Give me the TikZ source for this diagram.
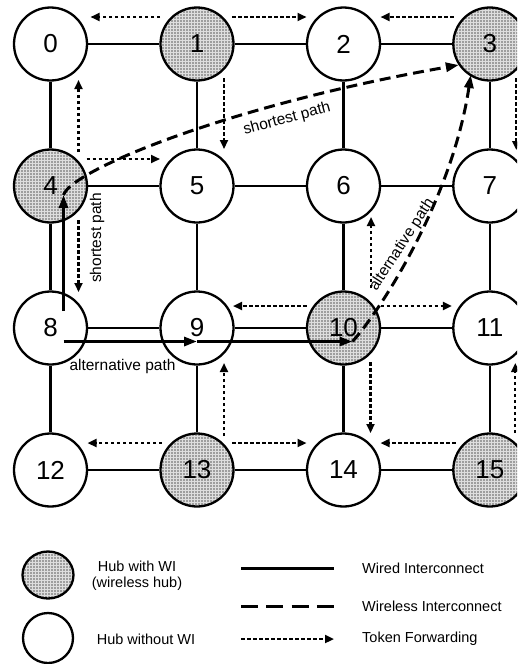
\documentclass[tikz,border=0pt]{standalone}
\usepackage{fontspec}
\setmainfont{Liberation Sans}
\usetikzlibrary{arrows.meta,patterns,calc,shapes.geometric}

% fine square dot raster used for the wireless hubs
\pgfdeclarepatternformonly{hubdots}{\pgfqpoint{-1pt}{-1pt}}{\pgfqpoint{4pt}{4pt}}{\pgfqpoint{3pt}{3pt}}{%
  \pgfpathrectangle{\pgfqpoint{0pt}{0pt}}{\pgfqpoint{1.5pt}{1.5pt}}\pgfusepath{fill}}

\begin{document}
\begin{tikzpicture}[x=1pt,y=-1pt,
  hub/.style={circle, draw, line width=2.3pt, minimum size=73pt, inner sep=0pt,
    font=\fontsize{26}{26}\selectfont},
  wihub/.style={hub, preaction={fill=black!13}, pattern=hubdots, pattern color=black!38},
  wire/.style={line width=2.2pt},
  token/.style={line width=2.2pt, dash pattern=on 3.5pt off 2.5pt,
    -{Triangle[length=9pt,width=8pt]}},
  wireless/.style={line width=3pt, dash pattern=on 11pt off 6pt,
    -{Triangle[length=13pt,width=9pt]}},
  route/.style={line width=3pt, -{Triangle[length=13pt,width=9pt]}},
  pathlabel/.style={font=\fontsize{15.5}{16}\selectfont, inner sep=0pt},
  legendtext/.style={font=\fontsize{14.5}{16}\selectfont, inner sep=0pt, align=center},
]
\useasboundingbox (0,0) rectangle (517,664);
\clip (0,0) rectangle (517,664);

% 4x4 mesh of hubs
\node[hub]   (n0)  at (50.5,44)  {0};
\node[wihub] (n1)  at (197,44)   {1};
\node[hub]   (n2)  at (343.5,44) {2};
\node[wihub] (n3)  at (489.8,44) {3};
\node[wihub] (n4)  at (50.5,186) {4};
\node[hub]   (n5)  at (197,186)  {5};
\node[hub]   (n6)  at (343.5,186){6};
\node[hub]   (n7)  at (489.8,186){7};
\node[hub]   (n8)  at (50.5,328) {8};
\node[hub]   (n9)  at (197,328)  {9};
\node[wihub] (n10) at (343.5,328){10};
\node[hub]   (n11) at (489.8,328){11};
\node[hub]   (n12) at (50.5,470) {12};
\node[wihub] (n13) at (197,470)  {13};
\node[hub]   (n14) at (343.5,470){14};
\node[wihub] (n15) at (489.8,470){15};

% wired interconnect
\foreach \a/\b in {n0/n1,n1/n2,n2/n3,n4/n5,n5/n6,n6/n7,n8/n9,n9/n10,n10/n11,
                   n12/n13,n13/n14,n14/n15,n0/n4,n1/n5,n2/n6,n3/n7,n4/n8,n5/n9,
                   n6/n10,n7/n11,n8/n12,n9/n13,n10/n14,n11/n15}
  \draw[wire] (\a) -- (\b);

% token forwarding
\draw[token] ($(n1)+(-37,-27)$) -- ($(n0)+(40,-27)$);
\draw[token] ($(n1)+(35,-27)$) -- ($(n2)+(-37,-27)$);
\draw[token] ($(n3)+(-36,-27)$) -- ($(n2)+(37,-27)$);
\draw[token] ($(n4)+(28,-34)$) -- ($(n0)+(28,36)$);
\draw[token] ($(n4)+(36,-27)$) -- ($(n5)+(-37,-27)$);
\draw[token] ($(n1)+(27,34)$) -- ($(n5)+(27,-37)$);
\draw[token] ($(n3)+(26.5,34)$) -- ($(n7)+(26.5,-36)$);
\draw[token] ($(n4)+(28,34)$) -- ($(n8)+(28,-36)$);
\draw[token] ($(n10)+(-37,-22)$) -- ($(n9)+(36,-22)$);
\draw[token] ($(n10)+(27.5,-40)$) -- ($(n6)+(27.5,31)$);
\draw[token] ($(n10)+(37,-22)$) -- ($(n11)+(-38,-22)$);
\draw[token] ($(n13)+(27,-34)$) -- ($(n9)+(27,35)$);
\draw[token] ($(n13)+(-35,-27)$) -- ($(n12)+(37,-27)$);
\draw[token] ($(n13)+(35,-27)$) -- ($(n14)+(-37,-27)$);
\draw[token] ($(n10)+(27,34)$) -- ($(n14)+(27,-37)$);
\draw[token] ($(n15)+(-34,-27)$) -- ($(n14)+(37,-27)$);
\draw[token] ($(n15)+(25.5,-37)$) -- ($(n11)+(25.5,35)$);

% routes from hub 8 to hub 3
\coordinate (s0) at ($(n8)+(13,-17)$);
\coordinate (s1) at ($(n4)+(13,9)$);
\coordinate (a0) at ($(n8)+(13,13.5)$);
\coordinate (a1) at ($(n9)+(0,13.5)$);
\coordinate (a2) at ($(n10)+(9,13.5)$);
\coordinate (t1) at ($(n3)+(-31,21)$);
\coordinate (t2) at ($(n3)+(-19,31)$);

\draw[route] (s0) -- (s1);
\draw[route] (a0) -- (a1);
\draw[route] (a1) -- (a2);
\draw[wireless] (s1) .. controls ($(s1)+(8,-25)$) and (230,105) .. (t1);
\draw[wireless] (a2) .. controls ($(a2)+(28,-31)$) and (452,200) .. (t2);

\node[pathlabel, rotate=15] at (287,119) {shortest path};
\node[pathlabel, rotate=90] at (97,238) {shortest path};
\node[pathlabel] at (122.5,366) {alternative path};
\node[pathlabel, rotate=57] at (402,245) {alternative path};

% legend
\node[ellipse, minimum width=51pt, minimum height=47pt, inner sep=0pt, line width=2.3pt, draw,
  preaction={fill=black!13}, pattern=hubdots, pattern color=black!38] (lw) at (48,575) {};
\node[circle, minimum size=50pt, inner sep=0pt, line width=2.3pt, draw] (lh) at (48,638) {};
\node[legendtext] (lwt) at (137,576) {Hub with WI\\(wireless hub)};
\node[legendtext] (lht) at (146,639) {Hub without WI};

\coordinate (l1a) at (241,568);  \coordinate (l1b) at (334,568);
\coordinate (l2a) at (241,606);  \coordinate (l2b) at (334,606);
\coordinate (l3a) at (241,639);  \coordinate (l3b) at (334,639);
\draw[line width=3pt] (l1a) -- (l1b);
\draw[line width=3pt, dash pattern=on 17pt off 8.3pt] (l2a) -- (l2b);
\draw[token] (l3a) -- (l3b);
\node[legendtext, anchor=west] at (362,568) {Wired Interconnect};
\node[legendtext, anchor=west] at (362,606) {Wireless Interconnect};
\node[legendtext, anchor=west] at (362,639) {Token Forwarding};
\end{tikzpicture}
\end{document}
